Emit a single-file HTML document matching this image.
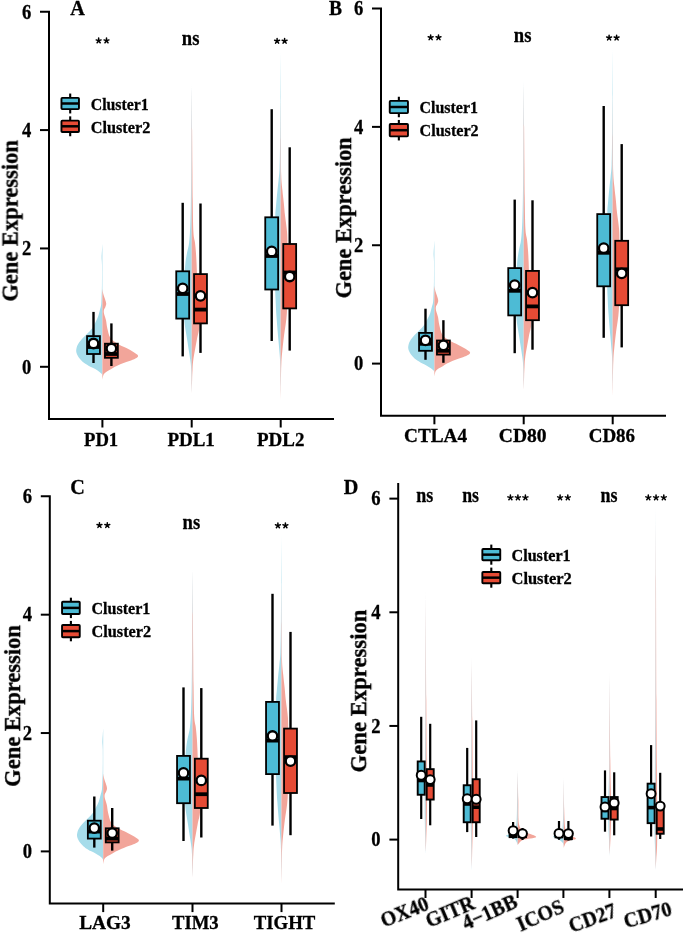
<!DOCTYPE html>
<html><head><meta charset="utf-8"><style>
html,body{margin:0;padding:0;background:#fff;overflow:hidden;width:685px;height:934px;}
svg{display:block;}
</style></head><body>
<svg width="685" height="934" viewBox="0 0 685 934">
<rect width="685" height="934" fill="#fff"/>
<defs><filter id="gf" x="-0.1" y="-0.1" width="1.2" height="1.2"><feOffset dx="0" dy="0"/></filter><g id="pabc"><path d="M102.40,243.70 L102.40,243.70 C102.33,244.75 102.13,247.78 102.00,250.00 C101.87,252.22 101.60,254.50 101.60,257.00 C101.60,259.50 101.94,260.33 102.00,265.00 C102.06,269.67 102.03,279.50 101.95,285.00 C101.87,290.50 101.64,294.65 101.50,298.00 C101.36,301.35 101.37,303.10 101.10,305.10 C100.83,307.10 100.40,308.08 99.90,310.00 C99.40,311.92 98.82,314.60 98.10,316.60 C97.38,318.60 96.58,320.07 95.60,322.00 C94.62,323.93 93.65,326.20 92.20,328.20 C90.75,330.20 88.75,332.05 86.90,334.00 C85.05,335.95 82.65,338.07 81.10,339.90 C79.55,341.73 78.42,343.25 77.60,345.00 C76.78,346.75 76.32,348.90 76.20,350.40 C76.08,351.90 76.47,352.83 76.90,354.00 C77.33,355.17 78.05,356.32 78.80,357.40 C79.55,358.48 80.43,359.52 81.40,360.50 C82.37,361.48 83.18,362.30 84.60,363.30 C86.02,364.30 88.13,365.53 89.90,366.50 C91.67,367.47 93.70,368.27 95.20,369.10 C96.70,369.93 97.83,370.72 98.90,371.50 C99.97,372.28 101.02,373.05 101.60,373.80 C102.18,374.55 102.27,375.63 102.40,376.00 L102.40,376.00 Z" fill="#a6dcea" fill-opacity="1.00"/>
<path d="M102.40,289.00 L102.40,289.00 C102.48,289.50 102.70,291.00 102.90,292.00 C103.10,293.00 103.25,293.83 103.60,295.00 C103.95,296.17 104.57,297.57 105.00,299.00 C105.43,300.43 106.13,302.27 106.20,303.60 C106.27,304.93 105.78,305.93 105.40,307.00 C105.02,308.07 104.12,308.83 103.90,310.00 C103.68,311.17 103.75,312.30 104.10,314.00 C104.45,315.70 105.47,317.83 106.00,320.20 C106.53,322.57 106.60,325.30 107.30,328.20 C108.00,331.10 108.58,335.07 110.20,337.60 C111.82,340.13 114.30,341.65 117.00,343.40 C119.70,345.15 123.67,346.67 126.40,348.10 C129.13,349.53 131.45,350.73 133.40,352.00 C135.35,353.27 137.77,354.62 138.10,355.70 C138.43,356.78 136.85,357.62 135.40,358.50 C133.95,359.38 131.48,360.20 129.40,361.00 C127.32,361.80 125.32,362.33 122.90,363.30 C120.48,364.27 116.85,365.83 114.90,366.80 C112.95,367.77 112.53,368.32 111.20,369.10 C109.87,369.88 108.12,370.68 106.90,371.50 C105.68,372.32 104.57,373.08 103.90,374.00 C103.23,374.92 103.15,376.00 102.90,377.00 C102.65,378.00 102.48,379.50 102.40,380.00 L102.40,380.00 Z" fill="#f2a59a" fill-opacity="1.00"/>
<path d="M191.70,83.50 L191.70,83.50 C191.65,91.25 191.48,115.58 191.40,130.00 C191.32,144.42 191.28,158.33 191.20,170.00 C191.12,181.67 191.05,190.83 190.90,200.00 C190.75,209.17 190.60,217.87 190.30,225.00 C190.00,232.13 189.67,238.05 189.10,242.80 C188.53,247.55 187.53,249.93 186.90,253.50 C186.27,257.07 185.75,259.78 185.30,264.20 C184.85,268.62 184.50,274.03 184.20,280.00 C183.90,285.97 183.50,293.33 183.50,300.00 C183.50,306.67 183.58,313.33 184.20,320.00 C184.82,326.67 186.18,333.33 187.20,340.00 C188.22,346.67 189.63,355.00 190.30,360.00 C190.97,365.00 191.00,365.83 191.20,370.00 C191.40,374.17 191.42,381.33 191.50,385.00 C191.58,388.67 191.67,390.83 191.70,392.00 L191.70,392.00 Z" fill="#a6dcea" fill-opacity="1.00"/>
<path d="M191.70,83.50 L191.70,83.50 C191.77,91.25 191.98,115.58 192.10,130.00 C192.22,144.42 192.30,158.33 192.40,170.00 C192.50,181.67 192.53,189.67 192.70,200.00 C192.87,210.33 193.02,224.87 193.40,232.00 C193.78,239.13 194.57,239.22 195.00,242.80 C195.43,246.38 195.73,249.93 196.00,253.50 C196.27,257.07 196.40,259.78 196.60,264.20 C196.80,268.62 196.93,274.03 197.20,280.00 C197.47,285.97 197.85,292.33 198.20,300.00 C198.55,307.67 199.53,319.33 199.30,326.00 C199.07,332.67 197.80,334.33 196.80,340.00 C195.80,345.67 194.02,355.00 193.30,360.00 C192.58,365.00 192.70,366.67 192.50,370.00 C192.30,373.33 192.23,375.67 192.10,380.00 C191.97,384.33 191.77,393.33 191.70,396.00 L191.70,396.00 Z" fill="#f2a59a" fill-opacity="1.00"/>
<path d="M280.60,50.70 L280.60,50.70 C280.55,58.92 280.38,85.12 280.30,100.00 C280.22,114.88 280.22,128.67 280.10,140.00 C279.98,151.33 279.85,161.33 279.60,168.00 C279.35,174.67 278.95,176.33 278.60,180.00 C278.25,183.67 277.92,185.83 277.50,190.00 C277.08,194.17 276.47,200.73 276.10,205.00 C275.73,209.27 275.55,209.77 275.30,215.60 C275.05,221.43 274.72,230.93 274.60,240.00 C274.48,249.07 274.43,260.00 274.60,270.00 C274.77,280.00 275.27,292.00 275.60,300.00 C275.93,308.00 276.13,311.33 276.60,318.00 C277.07,324.67 277.88,333.83 278.40,340.00 C278.92,346.17 279.40,350.83 279.70,355.00 C280.00,359.17 280.08,360.00 280.20,365.00 C280.33,370.00 280.38,380.00 280.45,385.00 C280.52,390.00 280.58,393.33 280.60,395.00 L280.60,395.00 Z" fill="#a6dcea" fill-opacity="1.00"/>
<path d="M280.60,90.00 L280.60,90.00 C280.65,98.33 280.80,125.83 280.90,140.00 C281.00,154.17 280.95,166.67 281.20,175.00 C281.45,183.33 281.97,185.33 282.40,190.00 C282.83,194.67 283.37,198.73 283.80,203.00 C284.23,207.27 284.45,210.65 285.00,215.60 C285.55,220.55 286.70,226.97 287.10,232.70 C287.50,238.43 287.38,242.12 287.40,250.00 C287.42,257.88 287.28,269.53 287.20,280.00 C287.12,290.47 287.42,303.63 286.90,312.80 C286.38,321.97 284.85,328.80 284.10,335.00 C283.35,341.20 282.85,345.50 282.40,350.00 C281.95,354.50 281.63,357.83 281.40,362.00 C281.17,366.17 281.10,370.33 281.00,375.00 C280.90,379.67 280.87,385.67 280.80,390.00 C280.73,394.33 280.63,399.17 280.60,401.00 L280.60,401.00 Z" fill="#f2a59a" fill-opacity="1.00"/>
<line x1="93.50" y1="311.90" x2="93.50" y2="336.10" stroke="#000" stroke-width="2.40"/>
<line x1="93.50" y1="354.00" x2="93.50" y2="363.00" stroke="#000" stroke-width="2.40"/>
<rect x="87.05" y="336.10" width="12.90" height="17.90" fill="#4DBBD5" stroke="#000" stroke-width="1.80"/>
<line x1="87.05" y1="347.00" x2="99.95" y2="347.00" stroke="#000" stroke-width="3.80"/>
<circle cx="93.50" cy="343.50" r="4.75" fill="#fff" stroke="#000" stroke-width="2.30"/>
<line x1="111.40" y1="323.40" x2="111.40" y2="343.70" stroke="#000" stroke-width="2.40"/>
<line x1="111.40" y1="357.80" x2="111.40" y2="366.00" stroke="#000" stroke-width="2.40"/>
<rect x="104.95" y="343.70" width="12.90" height="14.10" fill="#E64B35" stroke="#000" stroke-width="1.80"/>
<line x1="104.95" y1="354.00" x2="117.85" y2="354.00" stroke="#000" stroke-width="3.80"/>
<circle cx="111.40" cy="348.50" r="4.75" fill="#fff" stroke="#000" stroke-width="2.30"/>
<line x1="182.70" y1="202.80" x2="182.70" y2="271.30" stroke="#000" stroke-width="2.40"/>
<line x1="182.70" y1="318.60" x2="182.70" y2="356.40" stroke="#000" stroke-width="2.40"/>
<rect x="176.25" y="271.30" width="12.90" height="47.30" fill="#4DBBD5" stroke="#000" stroke-width="1.80"/>
<line x1="176.25" y1="294.00" x2="189.15" y2="294.00" stroke="#000" stroke-width="3.80"/>
<circle cx="182.70" cy="288.30" r="4.75" fill="#fff" stroke="#000" stroke-width="2.30"/>
<line x1="200.50" y1="203.50" x2="200.50" y2="274.10" stroke="#000" stroke-width="2.40"/>
<line x1="200.50" y1="323.40" x2="200.50" y2="352.90" stroke="#000" stroke-width="2.40"/>
<rect x="194.05" y="274.10" width="12.90" height="49.30" fill="#E64B35" stroke="#000" stroke-width="1.80"/>
<line x1="194.05" y1="309.60" x2="206.95" y2="309.60" stroke="#000" stroke-width="3.80"/>
<circle cx="200.50" cy="295.80" r="4.75" fill="#fff" stroke="#000" stroke-width="2.30"/>
<line x1="271.70" y1="109.20" x2="271.70" y2="217.30" stroke="#000" stroke-width="2.40"/>
<line x1="271.70" y1="289.50" x2="271.70" y2="341.00" stroke="#000" stroke-width="2.40"/>
<rect x="265.25" y="217.30" width="12.90" height="72.20" fill="#4DBBD5" stroke="#000" stroke-width="1.80"/>
<line x1="265.25" y1="256.00" x2="278.15" y2="256.00" stroke="#000" stroke-width="3.80"/>
<circle cx="271.70" cy="251.40" r="4.75" fill="#fff" stroke="#000" stroke-width="2.30"/>
<line x1="289.70" y1="147.30" x2="289.70" y2="244.00" stroke="#000" stroke-width="2.40"/>
<line x1="289.70" y1="308.40" x2="289.70" y2="350.60" stroke="#000" stroke-width="2.40"/>
<rect x="283.25" y="244.00" width="12.90" height="64.40" fill="#E64B35" stroke="#000" stroke-width="1.80"/>
<line x1="283.25" y1="272.50" x2="296.15" y2="272.50" stroke="#000" stroke-width="3.80"/>
<circle cx="289.70" cy="276.50" r="4.75" fill="#fff" stroke="#000" stroke-width="2.30"/>
<path d="M40,11.72 H49 V419 H334" fill="none" stroke="#000" stroke-width="2.0"/>
<line x1="40.00" y1="366.80" x2="49.00" y2="366.80" stroke="#000" stroke-width="2.00"/>
<line x1="40.00" y1="248.44" x2="49.00" y2="248.44" stroke="#000" stroke-width="2.00"/>
<line x1="40.00" y1="130.08" x2="49.00" y2="130.08" stroke="#000" stroke-width="2.00"/>
<line x1="102.40" y1="419.00" x2="102.40" y2="427.50" stroke="#000" stroke-width="2.00"/>
<line x1="191.70" y1="419.00" x2="191.70" y2="427.50" stroke="#000" stroke-width="2.00"/>
<line x1="280.70" y1="419.00" x2="280.70" y2="427.50" stroke="#000" stroke-width="2.00"/>
<text x="31.30" y="373.60" font-family="Liberation Serif" font-size="20.00" font-weight="bold" text-anchor="end" textLength="9.30" lengthAdjust="spacingAndGlyphs"  filter="url(#gf)" stroke="#000" stroke-width="0.30">0</text>
<text x="31.30" y="255.24" font-family="Liberation Serif" font-size="20.00" font-weight="bold" text-anchor="end" textLength="9.30" lengthAdjust="spacingAndGlyphs"  filter="url(#gf)" stroke="#000" stroke-width="0.30">2</text>
<text x="31.30" y="136.88" font-family="Liberation Serif" font-size="20.00" font-weight="bold" text-anchor="end" textLength="9.30" lengthAdjust="spacingAndGlyphs"  filter="url(#gf)" stroke="#000" stroke-width="0.30">4</text>
<text x="31.30" y="18.52" font-family="Liberation Serif" font-size="20.00" font-weight="bold" text-anchor="end" textLength="9.30" lengthAdjust="spacingAndGlyphs"  filter="url(#gf)" stroke="#000" stroke-width="0.30">6</text>
<path d="M98.65,40.70 L98.65,38.10 M98.65,40.70 L101.12,39.90 M98.65,40.70 L100.18,42.80 M98.65,40.70 L97.12,42.80 M98.65,40.70 L96.18,39.90 M106.50,40.70 L106.50,38.10 M106.50,40.70 L108.97,39.90 M106.50,40.70 L108.03,42.80 M106.50,40.70 L104.97,42.80 M106.50,40.70 L104.03,39.90 " stroke="#000" stroke-width="1.50" stroke-linecap="round" fill="none"/>
<text x="190.60" y="44.90" font-family="Liberation Serif" font-size="20.80" font-weight="bold" text-anchor="middle" textLength="17.60" lengthAdjust="spacingAndGlyphs"  filter="url(#gf)" stroke="#000" stroke-width="0.30">ns</text>
<path d="M277.10,41.00 L277.10,38.40 M277.10,41.00 L279.57,40.20 M277.10,41.00 L278.63,43.10 M277.10,41.00 L275.57,43.10 M277.10,41.00 L274.63,40.20 M284.60,41.00 L284.60,38.40 M284.60,41.00 L287.07,40.20 M284.60,41.00 L286.13,43.10 M284.60,41.00 L283.07,43.10 M284.60,41.00 L282.13,40.20 " stroke="#000" stroke-width="1.50" stroke-linecap="round" fill="none"/></g></defs>
<use href="#pabc"/>
<use href="#pabc" transform="translate(332,-3.2)"/>
<use href="#pabc" transform="translate(0.8,484.6)"/>
<text x="70.30" y="14.90" font-family="Liberation Serif" font-size="20.20" font-weight="bold" text-anchor="start"  filter="url(#gf)" stroke="#000" stroke-width="0.30">A</text>
<text x="0.00" y="0.00" font-family="Liberation Serif" font-size="22.60" font-weight="bold" text-anchor="middle" textLength="161.50" lengthAdjust="spacingAndGlyphs" transform="translate(17.6,220.9) rotate(-90)" filter="url(#gf)" stroke="#000" stroke-width="0.30">Gene Expression</text>
<text x="101.10" y="445.60" font-family="Liberation Serif" font-size="19.20" font-weight="bold" text-anchor="middle" textLength="34.20" lengthAdjust="spacingAndGlyphs"  filter="url(#gf)" stroke="#000" stroke-width="0.30">PD1</text>
<text x="191.10" y="445.60" font-family="Liberation Serif" font-size="19.20" font-weight="bold" text-anchor="middle" textLength="47.40" lengthAdjust="spacingAndGlyphs"  filter="url(#gf)" stroke="#000" stroke-width="0.30">PDL1</text>
<text x="280.70" y="445.60" font-family="Liberation Serif" font-size="19.20" font-weight="bold" text-anchor="middle" textLength="47.40" lengthAdjust="spacingAndGlyphs"  filter="url(#gf)" stroke="#000" stroke-width="0.30">PDL2</text>
<line x1="70.20" y1="93.55" x2="70.20" y2="113.45" stroke="#000" stroke-width="2.10"/>
<rect x="61.45" y="97.85" width="17.50" height="11.30" fill="#4DBBD5" stroke="#000" stroke-width="1.9" rx="0.8"/>
<line x1="61.45" y1="103.50" x2="78.95" y2="103.50" stroke="#000" stroke-width="2.50"/>
<line x1="70.20" y1="116.35" x2="70.20" y2="136.25" stroke="#000" stroke-width="2.10"/>
<rect x="61.45" y="120.65" width="17.50" height="11.30" fill="#E64B35" stroke="#000" stroke-width="1.9" rx="0.8"/>
<line x1="61.45" y1="126.30" x2="78.95" y2="126.30" stroke="#000" stroke-width="2.50"/>
<text x="90.70" y="110.10" font-family="Liberation Serif" font-size="16.80" font-weight="bold" text-anchor="start" textLength="58.10" lengthAdjust="spacingAndGlyphs"  filter="url(#gf)" stroke="#000" stroke-width="0.30">Cluster1</text>
<text x="90.70" y="133.00" font-family="Liberation Serif" font-size="16.80" font-weight="bold" text-anchor="start" textLength="59.60" lengthAdjust="spacingAndGlyphs"  filter="url(#gf)" stroke="#000" stroke-width="0.30">Cluster2</text>
<text x="328.90" y="15.00" font-family="Liberation Serif" font-size="20.20" font-weight="bold" text-anchor="start" textLength="13.00" lengthAdjust="spacingAndGlyphs"  filter="url(#gf)" stroke="#000" stroke-width="0.30">B</text>
<text x="0.00" y="0.00" font-family="Liberation Serif" font-size="22.60" font-weight="bold" text-anchor="middle" textLength="161.20" lengthAdjust="spacingAndGlyphs" transform="translate(351.1,217.9) rotate(-90)" filter="url(#gf)" stroke="#000" stroke-width="0.30">Gene Expression</text>
<text x="435.60" y="441.70" font-family="Liberation Serif" font-size="19.20" font-weight="bold" text-anchor="middle" textLength="63.10" lengthAdjust="spacingAndGlyphs"  filter="url(#gf)" stroke="#000" stroke-width="0.30">CTLA4</text>
<text x="522.70" y="441.70" font-family="Liberation Serif" font-size="19.20" font-weight="bold" text-anchor="middle" textLength="47.80" lengthAdjust="spacingAndGlyphs"  filter="url(#gf)" stroke="#000" stroke-width="0.30">CD80</text>
<text x="611.90" y="441.70" font-family="Liberation Serif" font-size="19.20" font-weight="bold" text-anchor="middle" textLength="46.40" lengthAdjust="spacingAndGlyphs"  filter="url(#gf)" stroke="#000" stroke-width="0.30">CD86</text>
<line x1="398.85" y1="96.75" x2="398.85" y2="117.25" stroke="#000" stroke-width="2.10"/>
<rect x="389.75" y="100.85" width="18.20" height="12.30" fill="#4DBBD5" stroke="#000" stroke-width="1.9" rx="0.8"/>
<line x1="389.75" y1="107.00" x2="407.95" y2="107.00" stroke="#000" stroke-width="2.50"/>
<line x1="398.85" y1="119.95" x2="398.85" y2="140.45" stroke="#000" stroke-width="2.10"/>
<rect x="389.75" y="124.05" width="18.20" height="12.30" fill="#E64B35" stroke="#000" stroke-width="1.9" rx="0.8"/>
<line x1="389.75" y1="130.20" x2="407.95" y2="130.20" stroke="#000" stroke-width="2.50"/>
<text x="419.50" y="113.40" font-family="Liberation Serif" font-size="16.80" font-weight="bold" text-anchor="start" textLength="58.50" lengthAdjust="spacingAndGlyphs"  filter="url(#gf)" stroke="#000" stroke-width="0.30">Cluster1</text>
<text x="419.50" y="136.20" font-family="Liberation Serif" font-size="16.80" font-weight="bold" text-anchor="start" textLength="59.20" lengthAdjust="spacingAndGlyphs"  filter="url(#gf)" stroke="#000" stroke-width="0.30">Cluster2</text>
<text x="70.20" y="493.60" font-family="Liberation Serif" font-size="20.20" font-weight="bold" text-anchor="start"  filter="url(#gf)" stroke="#000" stroke-width="0.30">C</text>
<text x="0.00" y="0.00" font-family="Liberation Serif" font-size="22.60" font-weight="bold" text-anchor="middle" textLength="161.80" lengthAdjust="spacingAndGlyphs" transform="translate(20.1,705.9) rotate(-90)" filter="url(#gf)" stroke="#000" stroke-width="0.30">Gene Expression</text>
<text x="105.00" y="928.90" font-family="Liberation Serif" font-size="19.20" font-weight="bold" text-anchor="middle" textLength="51.60" lengthAdjust="spacingAndGlyphs"  filter="url(#gf)" stroke="#000" stroke-width="0.30">LAG3</text>
<text x="195.30" y="928.90" font-family="Liberation Serif" font-size="19.20" font-weight="bold" text-anchor="middle" textLength="46.80" lengthAdjust="spacingAndGlyphs"  filter="url(#gf)" stroke="#000" stroke-width="0.30">TIM3</text>
<text x="284.50" y="928.90" font-family="Liberation Serif" font-size="19.20" font-weight="bold" text-anchor="middle" textLength="61.70" lengthAdjust="spacingAndGlyphs"  filter="url(#gf)" stroke="#000" stroke-width="0.30">TIGHT</text>
<line x1="70.90" y1="597.70" x2="70.90" y2="618.10" stroke="#000" stroke-width="2.10"/>
<rect x="62.05" y="601.80" width="17.70" height="12.20" fill="#4DBBD5" stroke="#000" stroke-width="1.9" rx="0.8"/>
<line x1="62.05" y1="607.90" x2="79.75" y2="607.90" stroke="#000" stroke-width="2.50"/>
<line x1="70.90" y1="620.90" x2="70.90" y2="641.30" stroke="#000" stroke-width="2.10"/>
<rect x="62.05" y="625.00" width="17.70" height="12.20" fill="#E64B35" stroke="#000" stroke-width="1.9" rx="0.8"/>
<line x1="62.05" y1="631.10" x2="79.75" y2="631.10" stroke="#000" stroke-width="2.50"/>
<text x="91.50" y="614.10" font-family="Liberation Serif" font-size="16.80" font-weight="bold" text-anchor="start" textLength="58.80" lengthAdjust="spacingAndGlyphs"  filter="url(#gf)" stroke="#000" stroke-width="0.30">Cluster1</text>
<text x="91.50" y="637.20" font-family="Liberation Serif" font-size="16.80" font-weight="bold" text-anchor="start" textLength="59.70" lengthAdjust="spacingAndGlyphs"  filter="url(#gf)" stroke="#000" stroke-width="0.30">Cluster2</text>
<text x="343.80" y="493.60" font-family="Liberation Serif" font-size="20.20" font-weight="bold" text-anchor="start"  filter="url(#gf)" stroke="#000" stroke-width="0.30">D</text>
<text x="0.00" y="0.00" font-family="Liberation Serif" font-size="22.60" font-weight="bold" text-anchor="middle" textLength="162.80" lengthAdjust="spacingAndGlyphs" transform="translate(366.2,691.0) rotate(-90)" filter="url(#gf)" stroke="#000" stroke-width="0.30">Gene Expression</text>
<text x="380.60" y="846.40" font-family="Liberation Serif" font-size="20.00" font-weight="bold" text-anchor="end" textLength="9.30" lengthAdjust="spacingAndGlyphs"  filter="url(#gf)" stroke="#000" stroke-width="0.30">0</text>
<text x="380.60" y="732.74" font-family="Liberation Serif" font-size="20.00" font-weight="bold" text-anchor="end" textLength="9.30" lengthAdjust="spacingAndGlyphs"  filter="url(#gf)" stroke="#000" stroke-width="0.30">2</text>
<text x="380.60" y="619.08" font-family="Liberation Serif" font-size="20.00" font-weight="bold" text-anchor="end" textLength="9.30" lengthAdjust="spacingAndGlyphs"  filter="url(#gf)" stroke="#000" stroke-width="0.30">4</text>
<text x="380.60" y="505.42" font-family="Liberation Serif" font-size="20.00" font-weight="bold" text-anchor="end" textLength="9.30" lengthAdjust="spacingAndGlyphs"  filter="url(#gf)" stroke="#000" stroke-width="0.30">6</text>
<path d="M425.70,590.50 L425.70,590.50 C425.65,608.75 425.52,671.75 425.40,700.00 C425.28,728.25 425.12,745.00 425.00,760.00 C424.88,775.00 424.73,780.00 424.70,790.00 C424.67,800.00 424.70,811.67 424.80,820.00 C424.90,828.33 425.15,834.42 425.30,840.00 C425.45,845.58 425.63,851.25 425.70,853.50 L425.70,853.50 Z" fill="#a6dcea" fill-opacity="1.00"/>
<path d="M425.70,590.50 L425.70,590.50 C425.80,608.75 426.13,671.75 426.30,700.00 C426.47,728.25 426.58,745.00 426.70,760.00 C426.82,775.00 426.98,780.00 427.00,790.00 C427.02,800.00 426.93,811.67 426.80,820.00 C426.67,828.33 426.38,834.42 426.20,840.00 C426.02,845.58 425.78,851.25 425.70,853.50 L425.70,853.50 Z" fill="#f2a59a" fill-opacity="1.00"/>
<path d="M471.70,657.00 L471.70,657.00 C471.65,667.50 471.53,699.50 471.40,720.00 C471.27,740.50 471.03,765.00 470.90,780.00 C470.77,795.00 470.58,800.83 470.60,810.00 C470.62,819.17 470.87,827.50 471.00,835.00 C471.13,842.50 471.28,849.17 471.40,855.00 C471.52,860.83 471.65,867.50 471.70,870.00 L471.70,870.00 Z" fill="#a6dcea" fill-opacity="1.00"/>
<path d="M471.70,657.00 L471.70,657.00 C471.80,667.50 472.12,699.50 472.30,720.00 C472.48,740.50 472.67,765.00 472.80,780.00 C472.93,795.00 473.13,800.83 473.10,810.00 C473.07,819.17 472.77,827.50 472.60,835.00 C472.43,842.50 472.25,849.17 472.10,855.00 C471.95,860.83 471.77,867.50 471.70,870.00 L471.70,870.00 Z" fill="#f2a59a" fill-opacity="1.00"/>
<path d="M517.70,770.00 L517.70,770.00 C517.60,775.00 517.35,790.83 517.10,800.00 C516.85,809.17 517.10,819.50 516.20,825.00 C515.30,830.50 513.40,831.17 511.70,833.00 C510.00,834.83 505.50,835.00 506.00,836.00 C506.50,837.00 512.75,837.50 514.70,839.00 C516.65,840.50 517.20,844.00 517.70,845.00 L517.70,845.00 Z" fill="#a6dcea" fill-opacity="1.00"/>
<path d="M517.70,770.00 L517.70,770.00 C517.80,775.00 518.05,790.83 518.30,800.00 C518.55,809.17 517.97,819.67 519.20,825.00 C520.43,830.33 522.87,830.00 525.70,832.00 C528.53,834.00 536.70,835.67 536.20,837.00 C535.70,838.33 525.78,838.67 522.70,840.00 C519.62,841.33 518.53,844.17 517.70,845.00 L517.70,845.00 Z" fill="#f2a59a" fill-opacity="1.00"/>
<path d="M563.70,777.00 L563.70,777.00 C563.63,782.50 563.50,801.50 563.30,810.00 C563.10,818.50 562.93,824.17 562.50,828.00 C562.07,831.83 562.25,831.63 560.70,833.00 C559.15,834.37 554.03,835.37 553.20,836.20 C552.37,837.03 554.53,837.28 555.70,838.00 C556.87,838.72 559.00,839.67 560.20,840.50 C561.40,841.33 562.32,842.08 562.90,843.00 C563.48,843.92 563.57,845.50 563.70,846.00 L563.70,846.00 Z" fill="#a6dcea" fill-opacity="1.00"/>
<path d="M563.70,777.00 L563.70,777.00 C563.78,782.50 563.95,801.50 564.20,810.00 C564.45,818.50 564.62,824.00 565.20,828.00 C565.78,832.00 565.90,832.25 567.70,834.00 C569.50,835.75 575.67,837.42 576.00,838.50 C576.33,839.58 571.42,839.75 569.70,840.50 C567.98,841.25 566.70,841.75 565.70,843.00 C564.70,844.25 564.03,847.17 563.70,848.00 L563.70,848.00 Z" fill="#f2a59a" fill-opacity="1.00"/>
<path d="M609.60,671.70 L609.60,671.70 C609.53,686.42 609.40,738.62 609.20,760.00 C609.00,781.38 608.55,790.00 608.40,800.00 C608.25,810.00 608.20,813.33 608.30,820.00 C608.40,826.67 608.78,834.00 609.00,840.00 C609.22,846.00 609.50,853.33 609.60,856.00 L609.60,856.00 Z" fill="#a6dcea" fill-opacity="1.00"/>
<path d="M609.60,671.70 L609.60,671.70 C609.72,686.42 610.05,738.62 610.30,760.00 C610.55,781.38 610.97,790.00 611.10,800.00 C611.23,810.00 611.22,813.33 611.10,820.00 C610.98,826.67 610.65,834.00 610.40,840.00 C610.15,846.00 609.73,853.33 609.60,856.00 L609.60,856.00 Z" fill="#f2a59a" fill-opacity="1.00"/>
<path d="M655.70,506.00 L655.70,506.00 C655.67,521.67 655.57,567.67 655.50,600.00 C655.43,632.33 655.42,670.00 655.30,700.00 C655.18,730.00 654.95,760.00 654.80,780.00 C654.65,800.00 654.38,809.17 654.40,820.00 C654.42,830.83 654.68,836.67 654.90,845.00 C655.12,853.33 655.57,865.83 655.70,870.00 L655.70,870.00 Z" fill="#a6dcea" fill-opacity="1.00"/>
<path d="M655.70,506.00 L655.70,506.00 C655.75,518.33 655.88,547.67 656.00,580.00 C656.12,612.33 656.25,666.67 656.40,700.00 C656.55,733.33 656.75,760.00 656.90,780.00 C657.05,800.00 657.27,809.17 657.30,820.00 C657.33,830.83 657.28,838.33 657.10,845.00 C656.92,851.67 656.43,855.83 656.20,860.00 C655.97,864.17 655.78,868.33 655.70,870.00 L655.70,870.00 Z" fill="#f2a59a" fill-opacity="1.00"/>
<line x1="421.20" y1="716.80" x2="421.20" y2="761.45" stroke="#000" stroke-width="2.20"/>
<line x1="421.20" y1="794.75" x2="421.20" y2="819.00" stroke="#000" stroke-width="2.20"/>
<rect x="417.70" y="761.45" width="7.00" height="33.30" fill="#4DBBD5" stroke="#000" stroke-width="1.90"/>
<line x1="417.70" y1="780.50" x2="424.70" y2="780.50" stroke="#000" stroke-width="3.60"/>
<circle cx="421.20" cy="775.20" r="4.45" fill="#fff" stroke="#000" stroke-width="2.00"/>
<line x1="430.20" y1="723.80" x2="430.20" y2="769.15" stroke="#000" stroke-width="2.20"/>
<line x1="430.20" y1="799.55" x2="430.20" y2="825.30" stroke="#000" stroke-width="2.20"/>
<rect x="426.70" y="769.15" width="7.00" height="30.40" fill="#E64B35" stroke="#000" stroke-width="1.90"/>
<line x1="426.70" y1="785.00" x2="433.70" y2="785.00" stroke="#000" stroke-width="3.60"/>
<circle cx="430.20" cy="779.60" r="4.45" fill="#fff" stroke="#000" stroke-width="2.00"/>
<line x1="467.20" y1="747.90" x2="467.20" y2="785.25" stroke="#000" stroke-width="2.20"/>
<line x1="467.20" y1="822.25" x2="467.20" y2="832.10" stroke="#000" stroke-width="2.20"/>
<rect x="463.70" y="785.25" width="7.00" height="37.00" fill="#4DBBD5" stroke="#000" stroke-width="1.90"/>
<line x1="463.70" y1="804.00" x2="470.70" y2="804.00" stroke="#000" stroke-width="3.60"/>
<circle cx="467.20" cy="798.80" r="4.45" fill="#fff" stroke="#000" stroke-width="2.00"/>
<line x1="476.20" y1="720.40" x2="476.20" y2="779.25" stroke="#000" stroke-width="2.20"/>
<line x1="476.20" y1="822.25" x2="476.20" y2="837.00" stroke="#000" stroke-width="2.20"/>
<rect x="472.70" y="779.25" width="7.00" height="43.00" fill="#E64B35" stroke="#000" stroke-width="1.90"/>
<line x1="472.70" y1="807.20" x2="479.70" y2="807.20" stroke="#000" stroke-width="3.60"/>
<circle cx="476.20" cy="799.30" r="4.45" fill="#fff" stroke="#000" stroke-width="2.00"/>
<line x1="513.10" y1="822.00" x2="513.10" y2="834.35" stroke="#000" stroke-width="2.20"/>
<line x1="513.10" y1="837.15" x2="513.10" y2="838.60" stroke="#000" stroke-width="2.20"/>
<rect x="509.60" y="834.35" width="7.00" height="2.80" fill="#4DBBD5" stroke="#000" stroke-width="1.90"/>
<line x1="509.60" y1="835.50" x2="516.60" y2="835.50" stroke="#000" stroke-width="3.60"/>
<circle cx="513.10" cy="830.70" r="4.45" fill="#fff" stroke="#000" stroke-width="2.00"/>
<line x1="522.50" y1="828.00" x2="522.50" y2="832.85" stroke="#000" stroke-width="2.20"/>
<line x1="522.50" y1="837.15" x2="522.50" y2="840.00" stroke="#000" stroke-width="2.20"/>
<rect x="519.00" y="832.85" width="7.00" height="4.30" fill="#E64B35" stroke="#000" stroke-width="1.90"/>
<line x1="519.00" y1="835.00" x2="526.00" y2="835.00" stroke="#000" stroke-width="3.60"/>
<circle cx="522.50" cy="833.60" r="4.45" fill="#fff" stroke="#000" stroke-width="2.00"/>
<line x1="559.00" y1="821.00" x2="559.00" y2="832.85" stroke="#000" stroke-width="2.20"/>
<line x1="559.00" y1="837.35" x2="559.00" y2="839.80" stroke="#000" stroke-width="2.20"/>
<rect x="555.50" y="832.85" width="7.00" height="4.50" fill="#4DBBD5" stroke="#000" stroke-width="1.90"/>
<line x1="555.50" y1="835.50" x2="562.50" y2="835.50" stroke="#000" stroke-width="3.60"/>
<circle cx="559.00" cy="833.40" r="4.45" fill="#fff" stroke="#000" stroke-width="2.00"/>
<line x1="568.40" y1="821.00" x2="568.40" y2="833.85" stroke="#000" stroke-width="2.20"/>
<line x1="568.40" y1="839.15" x2="568.40" y2="840.50" stroke="#000" stroke-width="2.20"/>
<rect x="564.90" y="833.85" width="7.00" height="5.30" fill="#E64B35" stroke="#000" stroke-width="1.90"/>
<line x1="564.90" y1="838.40" x2="571.90" y2="838.40" stroke="#000" stroke-width="3.60"/>
<circle cx="568.40" cy="833.60" r="4.45" fill="#fff" stroke="#000" stroke-width="2.00"/>
<line x1="605.00" y1="770.40" x2="605.00" y2="797.05" stroke="#000" stroke-width="2.20"/>
<line x1="605.00" y1="818.75" x2="605.00" y2="831.70" stroke="#000" stroke-width="2.20"/>
<rect x="601.50" y="797.05" width="7.00" height="21.70" fill="#4DBBD5" stroke="#000" stroke-width="1.90"/>
<line x1="601.50" y1="810.50" x2="608.50" y2="810.50" stroke="#000" stroke-width="3.60"/>
<circle cx="605.00" cy="806.90" r="4.45" fill="#fff" stroke="#000" stroke-width="2.00"/>
<line x1="614.20" y1="772.30" x2="614.20" y2="797.05" stroke="#000" stroke-width="2.20"/>
<line x1="614.20" y1="819.55" x2="614.20" y2="835.30" stroke="#000" stroke-width="2.20"/>
<rect x="610.70" y="797.05" width="7.00" height="22.50" fill="#E64B35" stroke="#000" stroke-width="1.90"/>
<line x1="610.70" y1="808.50" x2="617.70" y2="808.50" stroke="#000" stroke-width="3.60"/>
<circle cx="614.20" cy="802.90" r="4.45" fill="#fff" stroke="#000" stroke-width="2.00"/>
<line x1="651.10" y1="745.10" x2="651.10" y2="783.65" stroke="#000" stroke-width="2.20"/>
<line x1="651.10" y1="823.15" x2="651.10" y2="836.50" stroke="#000" stroke-width="2.20"/>
<rect x="647.60" y="783.65" width="7.00" height="39.50" fill="#4DBBD5" stroke="#000" stroke-width="1.90"/>
<line x1="647.60" y1="807.60" x2="654.60" y2="807.60" stroke="#000" stroke-width="3.60"/>
<circle cx="651.10" cy="793.70" r="4.45" fill="#fff" stroke="#000" stroke-width="2.00"/>
<line x1="660.20" y1="772.80" x2="660.20" y2="804.05" stroke="#000" stroke-width="2.20"/>
<line x1="660.20" y1="833.75" x2="660.20" y2="839.00" stroke="#000" stroke-width="2.20"/>
<rect x="656.70" y="804.05" width="7.00" height="29.70" fill="#E64B35" stroke="#000" stroke-width="1.90"/>
<line x1="656.70" y1="829.00" x2="663.70" y2="829.00" stroke="#000" stroke-width="3.60"/>
<circle cx="660.20" cy="806.10" r="4.45" fill="#fff" stroke="#000" stroke-width="2.00"/>
<path d="M398.2,483 V889.4 H683" fill="none" stroke="#000" stroke-width="2.0"/>
<line x1="389.40" y1="839.60" x2="398.20" y2="839.60" stroke="#000" stroke-width="2.00"/>
<line x1="389.40" y1="725.94" x2="398.20" y2="725.94" stroke="#000" stroke-width="2.00"/>
<line x1="389.40" y1="612.28" x2="398.20" y2="612.28" stroke="#000" stroke-width="2.00"/>
<line x1="389.40" y1="498.62" x2="398.20" y2="498.62" stroke="#000" stroke-width="2.00"/>
<line x1="425.50" y1="889.40" x2="425.50" y2="898.00" stroke="#000" stroke-width="2.00"/>
<line x1="471.60" y1="889.40" x2="471.60" y2="898.00" stroke="#000" stroke-width="2.00"/>
<line x1="517.60" y1="889.40" x2="517.60" y2="898.00" stroke="#000" stroke-width="2.00"/>
<line x1="563.40" y1="889.40" x2="563.40" y2="898.00" stroke="#000" stroke-width="2.00"/>
<line x1="609.40" y1="889.40" x2="609.40" y2="898.00" stroke="#000" stroke-width="2.00"/>
<line x1="655.70" y1="889.40" x2="655.70" y2="898.00" stroke="#000" stroke-width="2.00"/>
<text x="424.70" y="501.50" font-family="Liberation Serif" font-size="20.80" font-weight="bold" text-anchor="middle" textLength="17.00" lengthAdjust="spacingAndGlyphs"  filter="url(#gf)" stroke="#000" stroke-width="0.30">ns</text>
<text x="470.60" y="501.50" font-family="Liberation Serif" font-size="20.80" font-weight="bold" text-anchor="middle" textLength="16.80" lengthAdjust="spacingAndGlyphs"  filter="url(#gf)" stroke="#000" stroke-width="0.30">ns</text>
<path d="M510.40,497.65 L510.40,495.05 M510.40,497.65 L512.87,496.85 M510.40,497.65 L511.93,499.75 M510.40,497.65 L508.87,499.75 M510.40,497.65 L507.93,496.85 M517.90,497.65 L517.90,495.05 M517.90,497.65 L520.37,496.85 M517.90,497.65 L519.43,499.75 M517.90,497.65 L516.37,499.75 M517.90,497.65 L515.43,496.85 M525.40,497.65 L525.40,495.05 M525.40,497.65 L527.87,496.85 M525.40,497.65 L526.93,499.75 M525.40,497.65 L523.87,499.75 M525.40,497.65 L522.93,496.85 " stroke="#000" stroke-width="1.50" stroke-linecap="round" fill="none"/>
<path d="M560.10,497.65 L560.10,495.05 M560.10,497.65 L562.57,496.85 M560.10,497.65 L561.63,499.75 M560.10,497.65 L558.57,499.75 M560.10,497.65 L557.63,496.85 M567.80,497.65 L567.80,495.05 M567.80,497.65 L570.27,496.85 M567.80,497.65 L569.33,499.75 M567.80,497.65 L566.27,499.75 M567.80,497.65 L565.33,496.85 " stroke="#000" stroke-width="1.50" stroke-linecap="round" fill="none"/>
<text x="609.10" y="501.50" font-family="Liberation Serif" font-size="20.80" font-weight="bold" text-anchor="middle" textLength="17.00" lengthAdjust="spacingAndGlyphs"  filter="url(#gf)" stroke="#000" stroke-width="0.30">ns</text>
<path d="M648.30,497.65 L648.30,495.05 M648.30,497.65 L650.77,496.85 M648.30,497.65 L649.83,499.75 M648.30,497.65 L646.77,499.75 M648.30,497.65 L645.83,496.85 M656.05,497.65 L656.05,495.05 M656.05,497.65 L658.52,496.85 M656.05,497.65 L657.58,499.75 M656.05,497.65 L654.52,499.75 M656.05,497.65 L653.58,496.85 M663.80,497.65 L663.80,495.05 M663.80,497.65 L666.27,496.85 M663.80,497.65 L665.33,499.75 M663.80,497.65 L662.27,499.75 M663.80,497.65 L661.33,496.85 " stroke="#000" stroke-width="1.50" stroke-linecap="round" fill="none"/>
<line x1="491.30" y1="544.60" x2="491.30" y2="564.70" stroke="#000" stroke-width="2.10"/>
<rect x="482.35" y="549.00" width="17.90" height="11.30" fill="#4DBBD5" stroke="#000" stroke-width="1.9" rx="0.8"/>
<line x1="482.35" y1="554.65" x2="500.25" y2="554.65" stroke="#000" stroke-width="2.50"/>
<line x1="491.30" y1="567.60" x2="491.30" y2="587.70" stroke="#000" stroke-width="2.10"/>
<rect x="482.35" y="572.00" width="17.90" height="11.30" fill="#E64B35" stroke="#000" stroke-width="1.9" rx="0.8"/>
<line x1="482.35" y1="577.65" x2="500.25" y2="577.65" stroke="#000" stroke-width="2.50"/>
<text x="511.50" y="561.10" font-family="Liberation Serif" font-size="16.80" font-weight="bold" text-anchor="start" textLength="59.20" lengthAdjust="spacingAndGlyphs"  filter="url(#gf)" stroke="#000" stroke-width="0.30">Cluster1</text>
<text x="511.50" y="584.20" font-family="Liberation Serif" font-size="16.80" font-weight="bold" text-anchor="start" textLength="60.30" lengthAdjust="spacingAndGlyphs"  filter="url(#gf)" stroke="#000" stroke-width="0.30">Cluster2</text>
<text x="0.00" y="0.00" font-family="Liberation Serif" font-size="20.00" font-weight="bold" text-anchor="end" transform="translate(430.30,909.05) rotate(-22)" filter="url(#gf)" stroke="#000" stroke-width="0.30">OX40</text>
<text x="0.00" y="0.00" font-family="Liberation Serif" font-size="20.00" font-weight="bold" text-anchor="end" transform="translate(476.10,908.05) rotate(-23)" filter="url(#gf)" stroke="#000" stroke-width="0.30">GITR</text>
<text x="0.00" y="0.00" font-family="Liberation Serif" font-size="20.00" font-weight="bold" text-anchor="end" transform="translate(518.85,906.55) rotate(-24)" filter="url(#gf)" stroke="#000" stroke-width="0.30">4−1BB</text>
<text x="0.00" y="0.00" font-family="Liberation Serif" font-size="20.00" font-weight="bold" text-anchor="end" transform="translate(565.40,911.70) rotate(-24)" filter="url(#gf)" stroke="#000" stroke-width="0.30">ICOS</text>
<text x="0.00" y="0.00" font-family="Liberation Serif" font-size="20.00" font-weight="bold" text-anchor="end" transform="translate(617.75,916.20) rotate(-20)" filter="url(#gf)" stroke="#000" stroke-width="0.30">CD27</text>
<text x="0.00" y="0.00" font-family="Liberation Serif" font-size="20.00" font-weight="bold" text-anchor="end" transform="translate(673.05,914.90) rotate(-16)" filter="url(#gf)" stroke="#000" stroke-width="0.30">CD70</text>
</svg>
</body></html>
